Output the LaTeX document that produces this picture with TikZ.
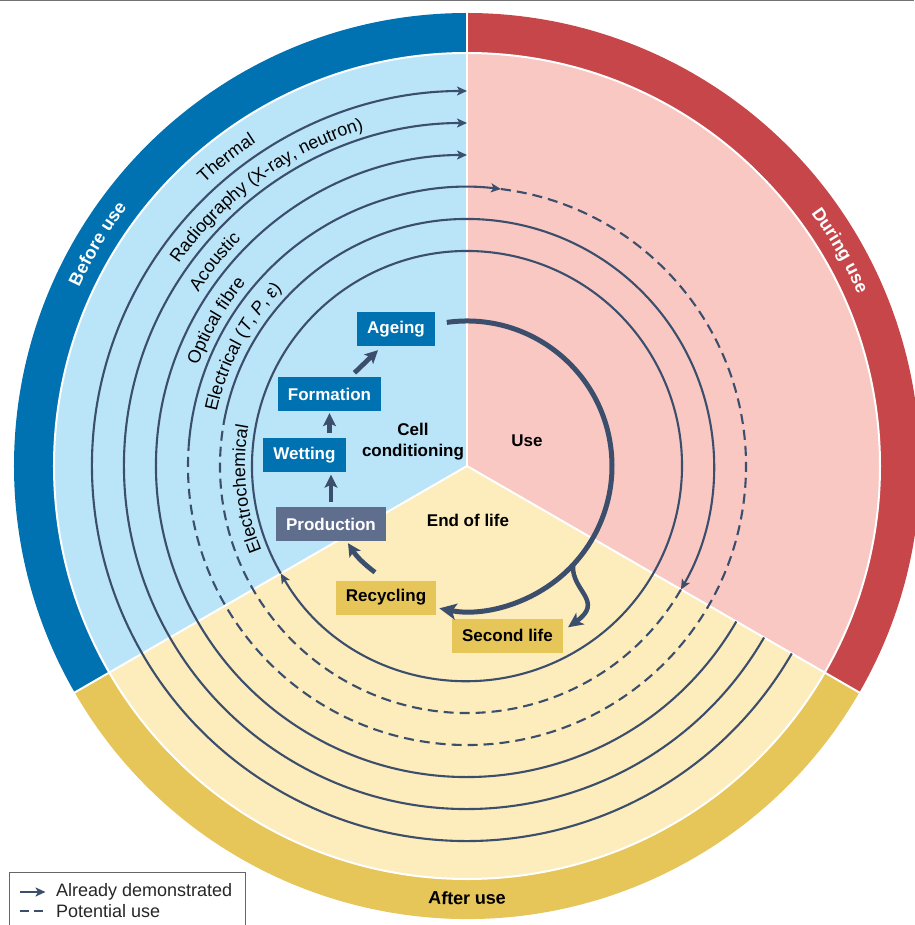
\documentclass[tikz,border=0pt]{standalone}
\usepackage{fontspec}
\setmainfont{Liberation Sans}
\usepackage{tikz}
\usetikzlibrary{arrows.meta, decorations.text, positioning}

\definecolor{beforering}{RGB}{0,114,178}
\definecolor{beforefill}{RGB}{186,228,248}
\definecolor{duringring}{RGB}{199,70,74}
\definecolor{duringfill}{RGB}{249,200,195}
\definecolor{afterring}{RGB}{230,197,89}
\definecolor{afterfill}{RGB}{253,236,188}
\definecolor{trackcol}{RGB}{59,78,108}
\definecolor{prodcol}{RGB}{95,110,140}

\newcommand{\arcfont}{\fontsize{18}{21}\selectfont}
\newcommand{\boxfont}{\fontsize{17}{21}\selectfont\bfseries}
\newcommand{\ringfont}{\fontsize{18}{21}\selectfont\bfseries}

\begin{document}
\begin{tikzpicture}[x=1pt, y=1pt,
        track/.style={draw=trackcol, line width=2.1pt},
        potential/.style={track, dash pattern=on 10pt off 6pt},
        tip/.style={-{Stealth[length=10pt, width=9pt, inset=2.5pt]}},
        flow/.style={draw=trackcol, line width=4.8pt, -{Stealth[length=13pt, width=13pt, inset=3pt]}},
        stage/.style={fill=beforering, text=white, font=\boxfont, minimum height=34pt, inner xsep=10pt},
        stagetext/.style={font=\boxfont, align=center},
        arctext/.style={decorate, decoration={text along path, text align=center, text={|\arcfont|#1}}},
        ringtext/.style={decorate, decoration={text along path, text align=center, text={|\ringfont|#1}}}]
            \useasboundingbox (-467, -459) rectangle (447, 466);
            \draw[black!55, line width=1.5pt] (-467, 465.5) -- (447, 465.5);
            \fill[beforering] (0, 0) -- (90:453) arc (90:210:453) -- cycle;
            \fill[afterring] (0, 0) -- (210:453) arc (210:330:453) -- cycle;
            \fill[duringring] (0, 0) -- (330:453) arc (330:450:453) -- cycle;
            \fill[beforefill] (0, 0) -- (90:413) arc (90:210:413) -- cycle;
            \fill[afterfill] (0, 0) -- (210:413) arc (210:330:413) -- cycle;
            \fill[duringfill] (0, 0) -- (330:413) arc (330:450:413) -- cycle;
            \draw[white, line width=2pt] (0, 0) circle (413);
            \foreach \a in {90, 210, 330}
                \draw[white, line width=2pt] (0, 0) -- (\a:454);
            \path[ringtext={Before use}, decoration={text color=white}] (179:427) arc (179:119:427);
            \path[ringtext={During use}, decoration={text color=white}] (60:427) arc (60:0:427);
            \path[ringtext={After use}] (240:439) arc (240:300:439);
            \draw[track, tip] (-30:375) arc (-30:-270:375);
            \draw[track, tip] (-30:343) arc (-30:-270:343);
            \draw[track, tip] (-30:311) arc (-30:-270:311);
            \draw[track, tip] (176:279) arc (176:83:279);
            \draw[potential] (83:279) arc (83:-184:279);
            \draw[track, tip] (170:247) arc (170:-30:247);
            \draw[potential] (-30:247) arc (-30:-190:247);
            \draw[track, tip] (210:215) arc (210:-150:215);
            \path[arctext={Thermal}] (148:386) arc (148:108:386);
            \path[arctext={Radiography (X-ray, neutron)}] (156:352) arc (156:96:352);
            \path[arctext={Acoustic}] (161:320) arc (161:121:320);
            \path[arctext={Optical fibre}] (170:287) arc (170:130:287);
            \path[decorate, decoration={text along path, text align=center,
                text={|\arcfont|Electrical (|\arcfont\itshape|T|\arcfont|, |\arcfont\itshape|P|\arcfont|, ε)}}]
                (182:256) arc (182:122:256);
            \path[arctext={Electrochemical}] (216:222) arc (216:156:222);
            \node[stage] (ageing) at (-71, 137) {Ageing};
            \node[stage] (formation) at (-137.5, 72) {Formation};
            \node[stage] (wetting) at (-162.5, 10.5) {Wetting};
            \node[stage, fill=prodcol] (production) at (-136, -58) {Production};
            \node[stage, fill=afterring, text=black] (recycling) at (-81, -131.5) {Recycling};
            \node[stage, fill=afterring, text=black] (secondlife) at (40.5, -169.5) {Second life};
            \node[stagetext] (cell) at (-54, 24.5) {Cell\\conditioning};
            \node[stagetext] (use) at (60, 25) {Use};
            \node[stagetext] (endoflife) at (1, -54) {End of life};
            \draw[flow, bend left=10] ([xshift=-11pt, yshift=8pt]recycling.north) to ([xshift=17pt, yshift=-2pt]production.south);
            \draw[flow, shorten <=5pt, shorten >=2pt] (production.north) -- (production.north |- wetting.south);
            \draw[flow, shorten <=5pt, shorten >=2pt] (formation.south |- wetting.north) -- (formation.south);
            \draw[flow] ([xshift=25pt, yshift=4pt]formation.north) -- ([xshift=-18pt, yshift=-4pt]ageing.south);
            \draw[track, line width=5pt, -{Stealth[length=17pt, width=16pt, inset=4pt]}] (98:145) arc (98:-101:145);
            \coordinate (split) at (-43:145);
            \draw[track, line width=4.5pt, -{Stealth[length=15pt, width=14pt, inset=4pt]}] (split) .. controls (104, -125) and (138, -135) .. ([xshift=5pt, yshift=-9pt]secondlife.north east);
            \draw[black!60, line width=0.8pt] (-458, -406) rectangle (-222, -480);
            \node[anchor=west, font=\arcfont, text=black!85] (demonstrated) at (-414.5, -426) {Already demonstrated};
            \node[anchor=west, font=\arcfont, text=black!85] (potentialuse) at (-414.5, -445) {Potential use};
            \draw[track, tip] ([xshift=-32pt]demonstrated.west) -- ([xshift=-7pt]demonstrated.west);
            \draw[track, dash pattern=on 9pt off 5pt] ([xshift=-32pt]potentialuse.west) -- ([xshift=-8pt]potentialuse.west);
        \end{tikzpicture}
\end{document}
